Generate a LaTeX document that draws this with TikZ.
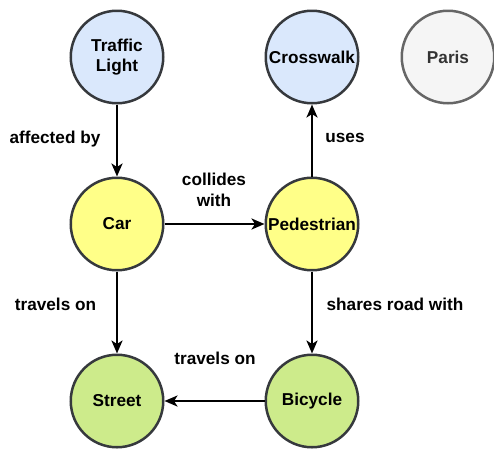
\documentclass[tikz,border=0pt]{standalone}
\usepackage{fontspec}
\setmainfont{Liberation Sans}
\usetikzlibrary{arrows.meta}
\definecolor{nblue}{HTML}{DAE8FC}
\definecolor{nyellow}{HTML}{FFFF88}
\definecolor{ngreen}{HTML}{CDEB8B}
\definecolor{ngrey}{HTML}{F5F5F5}
\definecolor{nstroke}{HTML}{36393D}
\definecolor{gstroke}{HTML}{666666}
\definecolor{gtext}{HTML}{333333}
\tikzset{
  ent/.style={circle, draw=nstroke, line width=2.5pt, minimum size=92.5pt, inner sep=0pt,
    font=\fontsize{17.2}{20}\selectfont\bfseries, align=center},
  rel/.style={-{Stealth[length=13pt,width=11pt,inset=3.5pt]}, line width=2.4pt, black},
  lbl/.style={font=\fontsize{17.2}{21}\selectfont\bfseries, align=center, text=black}
}
\begin{document}
\begin{tikzpicture}[x=1pt,y=-1pt]
\useasboundingbox (0,0) rectangle (494,448);
\node[ent, fill=nblue] (tl) at (117,57) {Traffic\\Light};
\node[ent, fill=nblue] (cw) at (312,57) {Crosswalk};
\node[ent, fill=ngrey, draw=gstroke, text=gtext] (pa) at (448,57) {Paris};
\node[ent, fill=nyellow] (car) at (117,224) {Car};
\node[ent, fill=nyellow] (ped) at (312,224) {Pedestrian};
\node[ent, fill=ngreen] (st) at (117,401) {Street};
\node[ent, fill=ngreen] (bi) at (312,401) {Bicycle};
\draw[rel] (tl) -- (car);
\draw[rel] (car) -- (ped);
\draw[rel] (ped) -- (cw);
\draw[rel] (car) -- (st);
\draw[rel] (ped) -- (bi);
\draw[rel] (bi) -- (st);
\node[lbl] (l1) at (55,139) {affected by};
\node[lbl] (l2) at (214,190) {collides\\with};
\node[lbl] (l3) at (345,138) {uses};
\node[lbl] (l4) at (55.5,304) {travels on};
\node[lbl] (l5) at (395,304) {shares road with};
\node[lbl] (l6) at (215,358) {travels on};
\end{tikzpicture}
\end{document}
